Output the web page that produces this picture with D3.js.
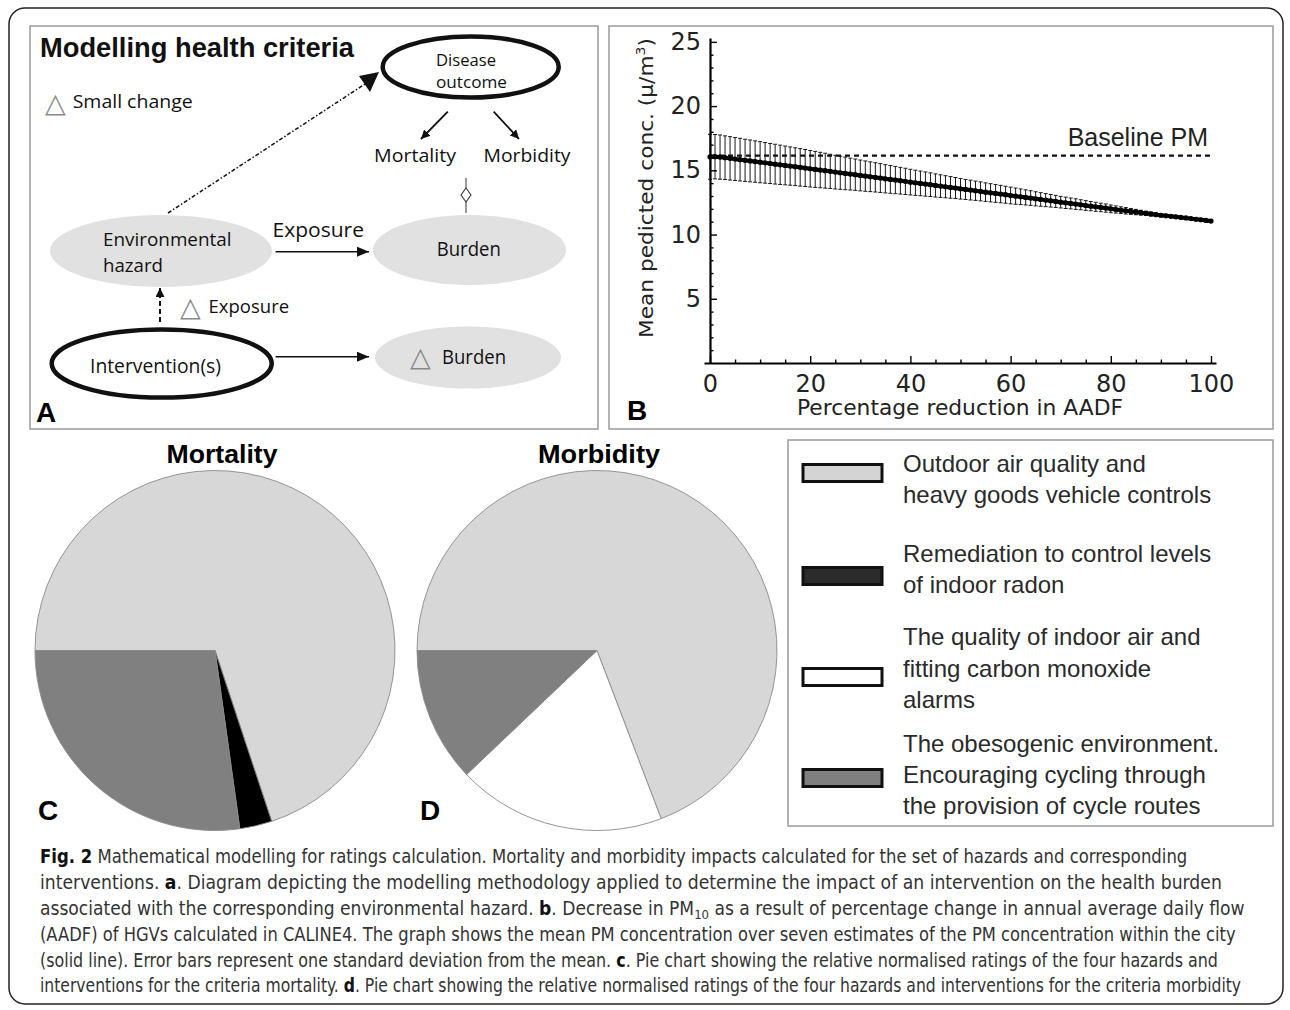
<!DOCTYPE html>
<html><head><meta charset="utf-8">
<script src="https://cdn.jsdelivr.net/npm/d3@7"></script>
<style>body{margin:0;background:#fff} svg{display:block}</style>
</head><body>
<svg id="c" width="1290" height="1010"></svg>
<script>
// ---------- DATA ----------
const pctReduction = [0,1,2,3,4,5,6,7,8,9,10,11,12,13,14,15,16,17,18,19,20,21,22,23,24,25,26,27,28,29,30,31,32,33,34,35,36,37,38,39,40,41,42,43,44,45,46,47,48,49,50,51,52,53,54,55,56,57,58,59,60,61,62,63,64,65,66,67,68,69,70,71,72,73,74,75,76,77,78,79,80,81,82,83,84,85,86,87,88,89,90,91,92,93,94,95,96,97,98,99,100];
const meanConc = [16.05,16.06,16.03,15.98,15.93,15.88,15.83,15.78,15.73,15.68,
15.63,15.58,15.53,15.48,15.43,15.38,15.33,15.28,15.23,15.18,
15.12,15.07,15.02,14.97,14.92,14.86,14.81,14.76,14.71,14.66,
14.60,14.55,14.50,14.45,14.40,14.34,14.29,14.24,14.19,14.14,
14.08,14.03,13.98,13.93,13.88,13.82,13.77,13.72,13.67,13.62,
13.56,13.51,13.46,13.41,13.36,13.30,13.25,13.20,13.15,13.10,
13.04,12.99,12.94,12.89,12.84,12.78,12.73,12.68,12.63,12.58,
12.52,12.47,12.42,12.37,12.32,12.26,12.21,12.16,12.11,12.06,
12.00,11.95,11.90,11.85,11.80,11.75,11.70,11.65,11.60,11.55,
11.50,11.46,11.42,11.38,11.33,11.29,11.24,11.19,11.15,11.10,
11.05];
const sdConc = [1.75,1.73,1.72,1.70,1.69,1.67,1.66,1.64,1.63,1.61,
1.60,1.58,1.56,1.55,1.53,1.51,1.49,1.47,1.46,1.44,
1.42,1.40,1.38,1.36,1.33,1.31,1.29,1.27,1.24,1.22,
1.20,1.18,1.16,1.14,1.12,1.10,1.08,1.06,1.04,1.02,
1.00,0.98,0.96,0.94,0.92,0.90,0.88,0.86,0.84,0.82,
0.80,0.78,0.77,0.75,0.74,0.72,0.71,0.69,0.68,0.66,
0.65,0.63,0.61,0.59,0.57,0.55,0.53,0.51,0.49,0.47,
0.45,0.44,0.42,0.41,0.39,0.38,0.36,0.35,0.33,0.32,
0.30,0.28,0.26,0.25,0.23,0.21,0.19,0.17,0.16,0.14,
0.12,0.11,0.10,0.09,0.08,0.07,0.06,0.05,0.04,0.04,
0.03];
const baselinePM = 16.15;
const yMajorTicks = [5,10,15,20,25];
const yMinorTicks = [1,2,3,4,6,7,8,9,11,12,13,14,16,17,18,19,21,22,23,24];
const xMajorTicks = [0,20,40,60,80,100];
const xMinorTicks = [5,10,15,25,30,35,45,50,55,65,70,75,85,90,95];

const interventions = [
  ["Outdoor air quality and","heavy goods vehicle controls"],
  ["Remediation to control levels","of indoor radon"],
  ["The quality of indoor air and","fitting carbon monoxide","alarms"],
  ["The obesogenic environment.","Encouraging cycling through","the provision of cycle routes"]
];
const mortalityRatings = [69.9, 2.9, 0, 27.2];
const morbidityRatings = [69.2, 0, 18.7, 12.1];
const pieColors = ["#d7d7d7", "#000000", "#ffffff", "#808080"];
const swatchColors = ["#d4d4d4", "#2b2b2b", "#ffffff", "#7f7f7f"];

const captionLines = [
  [["Fig. 2",1],[" Mathematical modelling for ratings calculation. Mortality and morbidity impacts calculated for the set of hazards and corresponding",0]],
  [["interventions. ",0],["a",1],[". Diagram depicting the modelling methodology applied to determine the impact of an intervention on the health burden",0]],
  [["associated with the corresponding environmental hazard. ",0],["b",1],[". Decrease in PM",0],["10",2],[" as a result of percentage change in annual average daily flow",0]],
  [["(AADF) of HGVs calculated in CALINE4. The graph shows the mean PM concentration over seven estimates of the PM concentration within the city",0]],
  [["(solid line). Error bars represent one standard deviation from the mean. ",0],["c",1],[". Pie chart showing the relative normalised ratings of the four hazards and",0]],
  [["interventions for the criteria mortality. ",0],["d",1],[". Pie chart showing the relative normalised ratings of the four hazards and interventions for the criteria morbidity",0]]
];

// ---------- DRAW ----------
const svg = d3.select("#c");
const defs = svg.append("defs");
defs.append("marker").attr("id","arr").attr("viewBox","0 0 12 10")
  .attr("refX",12).attr("refY",5).attr("markerWidth",12).attr("markerHeight",10)
  .attr("markerUnits","userSpaceOnUse").attr("orient","auto")
  .append("path").attr("d","M0,0L12,5L0,10Z").attr("fill","#111");
defs.append("marker").attr("id","arrs").attr("viewBox","0 0 10 10")
  .attr("refX",10).attr("refY",5).attr("markerWidth",9).attr("markerHeight",9)
  .attr("markerUnits","userSpaceOnUse").attr("orient","auto")
  .append("path").attr("d","M0,0L10,5L0,10Z").attr("fill","#111");

// outer frame
svg.append("rect").attr("x",9).attr("y",8).attr("width",1274).attr("height",996)
  .attr("rx",16).attr("fill","none").attr("stroke","#222").attr("stroke-width",1.5);

// panel borders
[[30,26,568,403],[609,26,664,403],[788,440,485,386]].forEach(b=>{
  svg.append("rect").attr("x",b[0]).attr("y",b[1]).attr("width",b[2]).attr("height",b[3])
    .attr("fill","none").attr("stroke","#9a9a9a").attr("stroke-width",1.5);
});

function T(g, s, x, y, o={}) {
  const t = g.append("text").attr("x",x).attr("y",y).text(s)
    .attr("font-family", o.font || "'Open Sans', sans-serif")
    .attr("font-size", o.size || 18.5)
    .attr("fill", o.fill || "#111")
    .attr("text-anchor", o.anchor || "start");
  if (o.weight) t.attr("font-weight", o.weight);
  if (o.len) t.attr("textLength", o.len).attr("lengthAdjust","spacingAndGlyphs");
  return t;
}

// ---------- PANEL A ----------
const A = svg.append("g");
T(A,"Modelling health criteria",40,57,{font:"'Liberation Sans', Arial, sans-serif",size:27,weight:"bold",len:314});
A.append("ellipse").attr("cx",161).attr("cy",251).attr("rx",111).attr("ry",36).attr("fill","#e1e1e1");
A.append("ellipse").attr("cx",469.5).attr("cy",250).attr("rx",96.5).attr("ry",35).attr("fill","#e1e1e1");
A.append("ellipse").attr("cx",468).attr("cy",357.5).attr("rx",93).attr("ry",31).attr("fill","#e1e1e1");
A.append("ellipse").attr("cx",470.7).attr("cy",67).attr("rx",88).attr("ry",30.5).attr("fill","#fff").attr("stroke","#111").attr("stroke-width",4.5);
A.append("ellipse").attr("cx",161.7).attr("cy",363.5).attr("rx",110).attr("ry",34).attr("fill","#fff").attr("stroke","#111").attr("stroke-width",4.5);

T(A,"Disease",466,65.5,{size:16.5,anchor:"middle",len:60});
T(A,"outcome",471.5,88,{size:16.5,anchor:"middle",len:71});
T(A,"△",55.5,112,{font:"'DejaVu Sans'",size:27,anchor:"middle",fill:"#8a8a8a"});
T(A,"Small change",72.7,108,{len:120});
T(A,"Mortality",415,161.5,{anchor:"middle",len:82});
T(A,"Morbidity",527,161.5,{anchor:"middle",len:87});
T(A,"Environmental",103,245.5,{len:128.5});
T(A,"hazard",103,271.5,{len:60});
T(A,"Exposure",272.5,237,{size:20.5,len:91.5});
T(A,"Burden",468.8,256,{anchor:"middle",size:19.5,len:64});
T(A,"△",190.5,316,{font:"'DejaVu Sans'",size:27,anchor:"middle",fill:"#8a8a8a"});
T(A,"Exposure",208.6,313,{size:19,len:80.5});
T(A,"Intervention(s)",90,373,{size:19.5,len:131});
T(A,"△",420.5,366,{font:"'DejaVu Sans'",size:27,anchor:"middle",fill:"#8a8a8a"});
T(A,"Burden",442,364,{size:19.5,len:64});
T(A,"A",36,421.7,{font:"'Liberation Sans', Arial, sans-serif",size:28,weight:"bold",fill:"#000"});

function arrow(x1,y1,x2,y2,m="arr",dash=null,w=1.6){
  const l = A.append("line").attr("x1",x1).attr("y1",y1).attr("x2",x2).attr("y2",y2)
   .attr("stroke","#111").attr("stroke-width",w);
  if (m) l.attr("marker-end",`url(#${m})`);
  if (dash) l.attr("stroke-dasharray",dash);
}
arrow(275.5,251.7,369,251.7);
arrow(275.5,356.7,369,356.7);
arrow(447.8,111.7,421,139,"arrs",null,1.8);
arrow(493.7,111.7,519,139,"arrs",null,1.8);
arrow(160,322,160,288,"arrs","5,3",2);
arrow(168,213,365,84,null,"4,2,1.5,2",1.5);
A.append("polygon").attr("points","359,76 379,72 370,92").attr("fill","#111");
A.append("line").attr("x1",466).attr("y1",178).attr("x2",466).attr("y2",213).attr("stroke","#555").attr("stroke-width",1.2);
A.append("polygon").attr("points","466,188 471,195 466,202 461,195").attr("fill","#fff").attr("stroke","#444").attr("stroke-width",1.2);

// ---------- PANEL B ----------
const B = svg.append("g");
const x = d3.scaleLinear().domain([-1.2,101]).range([704,1216]);
const y = d3.scaleLinear().domain([0,25.3]).range([363,38]);
const pts = pctReduction.map((p,i)=>({p, m:meanConc[i], s:sdConc[i]}));

B.append("line").attr("x1",x(0)).attr("x2",x(100)).attr("y1",y(baselinePM)).attr("y2",y(baselinePM))
  .attr("stroke","#111").attr("stroke-width",2.2).attr("stroke-dasharray","5,4");
T(B,"Baseline PM",1208,146,{font:"'Liberation Sans', Arial, sans-serif",size:25,anchor:"end",fill:"#222"});

const eb = B.append("g").attr("stroke","#1a1a1a").attr("stroke-width",1);
pts.forEach(d=>{
  const xx = x(d.p), y1 = y(d.m+d.s), y2 = y(d.m-d.s);
  eb.append("line").attr("x1",xx).attr("x2",xx).attr("y1",y1).attr("y2",y2);
  eb.append("line").attr("x1",xx-2).attr("x2",xx+2).attr("y1",y1).attr("y2",y1);
  eb.append("line").attr("x1",xx-2).attr("x2",xx+2).attr("y1",y2).attr("y2",y2);
});
B.append("path").datum(pts).attr("fill","none").attr("stroke","#000").attr("stroke-width",4)
  .attr("d", d3.line().x(d=>x(d.p)).y(d=>y(d.m)));
B.selectAll("circle.pt").data(pts).join("circle").attr("class","pt")
  .attr("cx",d=>x(d.p)).attr("cy",d=>y(d.m)).attr("r",2.6).attr("fill","#000");

const tickFont = "'DejaVu Sans', sans-serif";
B.append("g").attr("transform","translate(710,0)")
  .call(d3.axisLeft(y).tickValues(yMajorTicks).tickSizeInner(-7).tickSizeOuter(0).tickPadding(9).tickFormat(d3.format("d")));
B.append("g").attr("transform","translate(710,0)")
  .call(d3.axisLeft(y).tickValues(yMinorTicks).tickSizeInner(-3.5).tickSizeOuter(0).tickFormat(""))
  .call(g=>g.select(".domain").remove());
B.append("g").attr("transform","translate(0,363)")
  .call(d3.axisBottom(x).tickValues(xMajorTicks).tickSizeInner(-7).tickSizeOuter(0).tickPadding(12).tickFormat(d3.format("d")));
B.append("g").attr("transform","translate(0,363)")
  .call(d3.axisBottom(x).tickValues(xMinorTicks).tickSizeInner(-3.5).tickSizeOuter(0).tickFormat(""))
  .call(g=>g.select(".domain").remove());
B.selectAll(".domain").attr("stroke","#000").attr("stroke-width",2.2);
B.selectAll(".tick line").attr("stroke","#000").attr("stroke-width",1.4);
B.selectAll(".tick text").attr("font-family",tickFont).attr("font-size",24).attr("fill","#222");

const yl = B.append("text").attr("transform","translate(653,188) rotate(-90)")
  .attr("text-anchor","middle").attr("font-family",tickFont).attr("font-size",20).attr("fill","#222")
  .attr("textLength",300).attr("lengthAdjust","spacingAndGlyphs");
yl.append("tspan").text("Mean pedicted conc. (μ/m");
yl.append("tspan").attr("dy",-8).attr("font-size",13).text("3");
yl.append("tspan").attr("dy",8).text(")");
T(B,"Percentage reduction in AADF",960,415,{font:tickFont,size:20.5,anchor:"middle",len:326,fill:"#222"});
T(B,"B",627,419.5,{font:"'Liberation Sans', Arial, sans-serif",size:28,weight:"bold",fill:"#000"});

// ---------- PIES ----------
const pie = d3.pie().sort(null).value(d=>d).startAngle(-Math.PI/2).endAngle(1.5*Math.PI);
const arc = d3.arc().innerRadius(0).outerRadius(180);
function drawPie(vals, cx, cy) {
  const g = svg.append("g").attr("transform",`translate(${cx},${cy})`);
  g.selectAll("path").data(pie(vals).filter(d=>d.value>0)).join("path")
    .attr("d",arc).attr("fill",d=>pieColors[d.index])
    .attr("stroke","#8a8a8a").attr("stroke-width",0.9);
}
drawPie(mortalityRatings, 215, 650.5);
drawPie(morbidityRatings, 597, 650.5);
const bold = "'Liberation Sans', Arial, sans-serif";
T(svg,"Mortality",222,463,{font:bold,size:25,weight:"bold",anchor:"middle",len:111,fill:"#000"});
T(svg,"Morbidity",599,463,{font:bold,size:25,weight:"bold",anchor:"middle",len:122,fill:"#000"});
T(svg,"C",38,820,{font:bold,size:28,weight:"bold",fill:"#000"});
T(svg,"D",420,820,{font:bold,size:28,weight:"bold",fill:"#000"});

// ---------- LEGEND ----------
const swY = [463, 566, 667, 768];
const lineY = [[472,503],[562,593],[645,677,708],[752,783,814]];
interventions.forEach((lines,i)=>{
  svg.append("rect").attr("x",803).attr("y",swY[i]+1.5).attr("width",79).attr("height",17)
    .attr("fill",swatchColors[i]).attr("stroke","#111").attr("stroke-width",3);
  lines.forEach((s,j)=>{
    T(svg,s,903,lineY[i][j],{font:"'Liberation Sans', Arial, sans-serif",size:24,fill:"#2a2a2a"});
  });
});

// ---------- CAPTION ----------
const capY = [863, 889, 915, 941, 967, 992];
const capEnd = [1188, 1222, 1245, 1236, 1218, 1242];
captionLines.forEach((segs,i)=>{
  const t = svg.append("text").attr("x",0).attr("y",0)
    .attr("font-family","'Liberation Sans Narrow', 'DejaVu Sans Condensed', sans-serif")
    .attr("font-size",19).attr("fill","#333");
  let shifted = false;
  segs.forEach(([s,k])=>{
    const ts = t.append("tspan").text(s);
    if (k===1) ts.attr("font-weight","bold").attr("fill","#111");
    if (k===2) { ts.attr("font-size",13).attr("dy",4); shifted = true; }
    else if (shifted) { ts.attr("dy",-4); shifted = false; }
  });
  const w = t.node().getComputedTextLength();
  t.attr("transform",`translate(40,${capY[i]}) scale(${(capEnd[i]-40)/w},1)`);
});
</script>
</body></html>
